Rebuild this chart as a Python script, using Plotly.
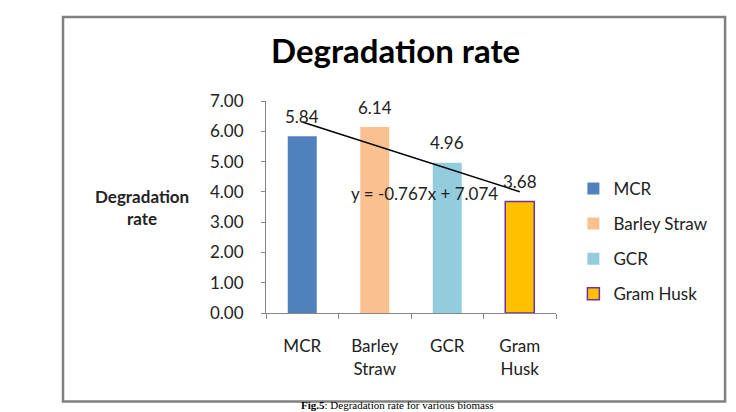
import plotly.graph_objects as go

categories = ["MCR", "Barley Straw", "GCR", "Gram Husk"]
tick_labels = ["MCR", "Barley<br>Straw", "GCR", "Gram<br>Husk"]
values = [5.84, 6.14, 4.96, 3.68]
value_labels = ["5.84", "6.14", "4.96", "3.68"]
colors = ["#4F81BD", "#FAC090", "#93CDDD", "#FFC000"]
border_colors = ["#4F81BD", "#FAC090", "#93CDDD", "#7030A0"]
slope = -0.767
intercept = 7.074
y_ticks = [0, 1, 2, 3, 4, 5, 6, 7]

FONT = "Lato"
FS = 17
fig = go.Figure()
for i, c in enumerate(categories):
    fig.add_trace(go.Bar(
        x=[c], y=[values[i]], name=c, width=0.4,
        marker=dict(color=colors[i], line=dict(color=border_colors[i], width=1.5 if i == 3 else 0)),
        legendgroup=c, hoverinfo="y",
    ))

trend_y = [slope * (i + 1) + intercept for i in range(len(categories))]
fig.add_trace(go.Scatter(x=categories, y=trend_y, mode="lines",
                         line=dict(color="black", width=1.5), showlegend=False,
                         hoverinfo="skip"))

for i, c in enumerate(categories):
    fig.add_annotation(x=c, y=values[i], text=value_labels[i], showarrow=False,
                       yshift=20, yanchor="middle",
                       font=dict(family=FONT, size=FS, color="#222"))

fig.add_annotation(x=1.69, y=3.94, xref="x", yref="y", text="y = -0.767x + 7.074",
                   showarrow=False, yanchor="middle",
                   font=dict(family=FONT, size=FS, color="#222"))

fig.add_annotation(x=-0.428, y=0.496, xref="paper", yref="paper",
                   xanchor="center", yanchor="middle",
                   text="<b>Degradation</b><br><b>rate</b>", showarrow=False,
                   font=dict(family=FONT, size=17, color="#222"), align="center")

fig.add_annotation(x=0.445, y=1.24, xref="paper", yref="paper",
                   xanchor="center", yanchor="middle",
                   text="<b>Degradation rate</b>", showarrow=False,
                   font=dict(family=FONT, size=33, color="black"))

fig.add_annotation(x=0.45, y=(313.3 - 413) / 212.3, xref="paper", yref="paper",
                   xanchor="center", yanchor="bottom",
                   text="<b>Fig.5</b>: Degradation rate for various biomass", showarrow=False,
                   font=dict(family="Liberation Serif", size=11, color="black"))

fig.add_shape(type="rect", xref="paper", yref="paper",
              x0=-0.70, x1=1.583, y0=-0.418, y1=1.396,
              line=dict(color="#808080", width=2.5), fillcolor="rgba(0,0,0,0)", layer="below")

fig.update_layout(
    width=736, height=412,
    margin=dict(l=266, r=180, t=101, b=99),
    paper_bgcolor="white", plot_bgcolor="white",
    barmode="overlay",
    font=dict(family=FONT, size=FS, color="#222"),
    showlegend=True,
    legend=dict(x=1.06, y=0.67, yanchor="top", xanchor="left",
                font=dict(family=FONT, size=FS, color="#222"),
                tracegroupgap=10, itemwidth=30, bgcolor="rgba(0,0,0,0)"),
    xaxis=dict(type="category", tickvals=categories, ticktext=tick_labels,
               showline=True, linecolor="#868686", linewidth=1,
               ticks="outside", tickson="boundaries", ticklen=5, tickcolor="#868686",
               ticklabelstandoff=18,
               showgrid=False, tickfont=dict(size=FS)),
    yaxis=dict(range=[0, 7], tickvals=y_ticks, tickformat=".2f",
               showline=True, linecolor="#868686", linewidth=1,
               ticks="outside", ticklen=4, tickcolor="#868686",
               ticklabelstandoff=14,
               showgrid=False, zeroline=False, tickfont=dict(size=FS)),
)

fig.write_html("out.html")
